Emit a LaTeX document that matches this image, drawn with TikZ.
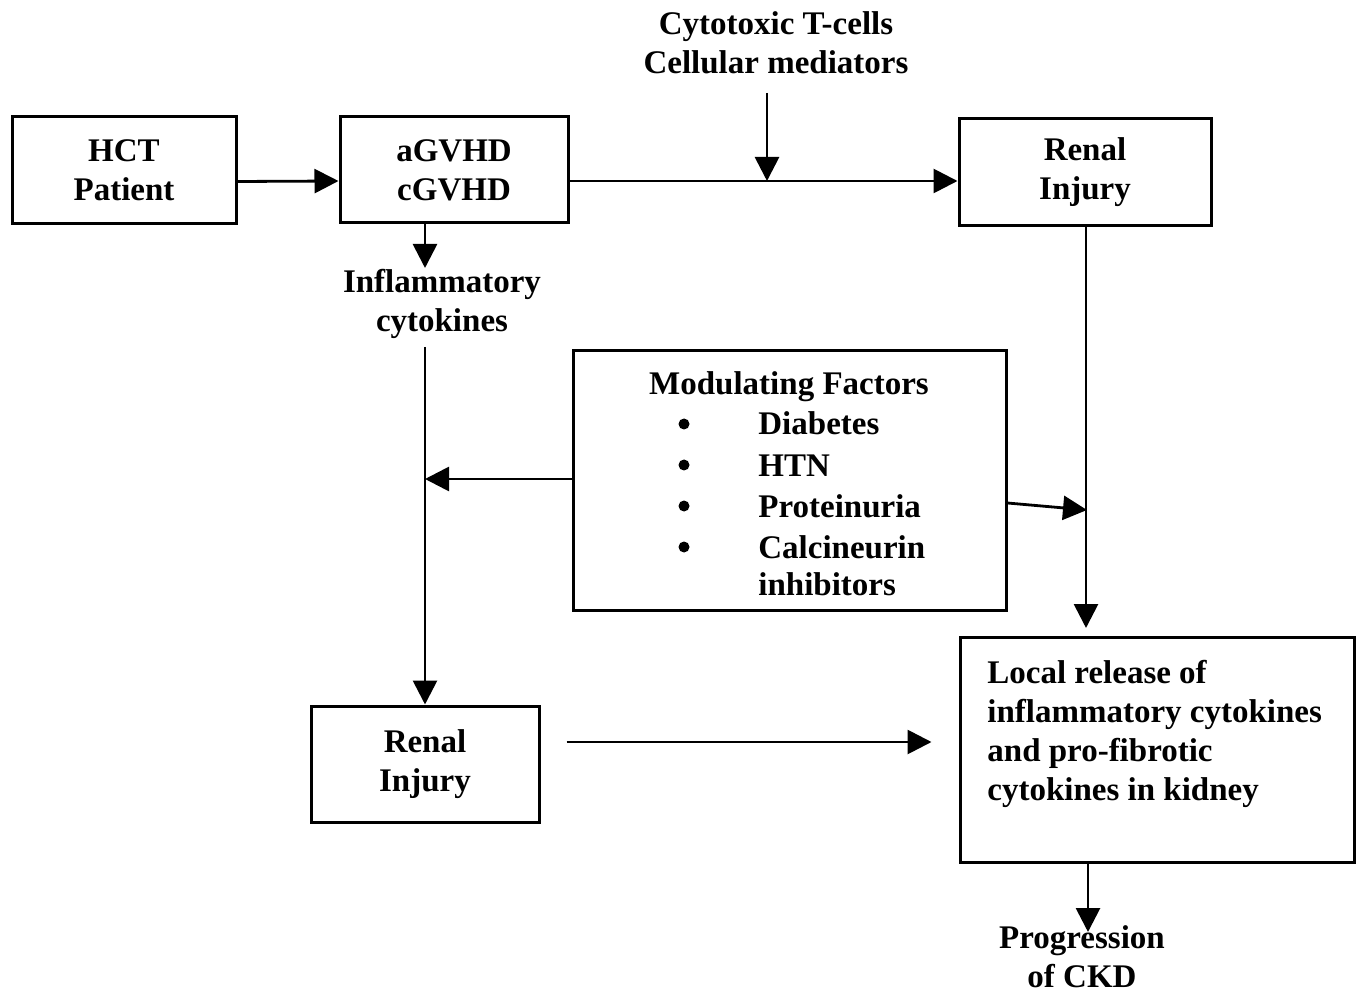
\documentclass[tikz,border=0pt]{standalone}
\usepackage{fontspec}
\setmainfont{Liberation Serif}
\usetikzlibrary{positioning,arrows.meta}

\begin{document}
\begin{tikzpicture}[x=0.5pt,y=-0.5pt,
  font=\fontsize{16.5}{19.5}\selectfont\bfseries,
  box/.style={draw,line width=1.5pt,inner sep=0pt,align=center},
  lbl/.style={align=center,inner sep=0pt},
  dot/.style={circle,fill,inner sep=0pt,minimum size=5.5pt},
  arr/.style={line width=1.4pt,-{Triangle[length=12pt,width=12pt]}}]
\useasboundingbox (0,0) rectangle (1360,994);
% boxes
\node[box,minimum width=112pt,minimum height=53.5pt] (hct) at (124,170.5) {HCT\\Patient};
\node[box,minimum width=114pt,minimum height=53pt] (gvhd) at (454,170) {aGVHD\\cGVHD};
\node[box,minimum width=126pt,minimum height=53.5pt] (renaltop) at (1085,172) {Renal\\Injury};
\node[box,minimum width=216.5pt,minimum height=129.5pt] (mod) at (789.5,480.5) {};
\node[box,minimum width=114pt,minimum height=58pt] (renalbot) at (425,764) {Renal\\Injury};
\node[box,minimum width=197pt,minimum height=112.5pt] (local) at (1157,749.5) {};
% free labels
\node[lbl] (cyto) at (776,43) {Cytotoxic T-cells\\Cellular mediators};
\node[lbl] (infl) at (442,304) {Inflammatory\\cytokines};
\node[lbl] (prog) at (1082,957) {Progression\\of CKD};
\node[lbl,anchor=north west,align=left] (localtxt) at (987,660)
  {Local release of\\inflammatory cytokines\\and pro-fibrotic\\cytokines in kidney};
% modulating factors
\node[lbl,anchor=base] (modtitle) at (789,395) {Modulating Factors};
\foreach \y/\t [count=\i] in {435/Diabetes,476/HTN,517/Proteinuria,558/Calcineurin} {
  \node[dot] (bul\i) at (684,\y-11) {};
  \node[lbl,anchor=base west] (item\i) at (758,\y) {\t};
}
\node[lbl,anchor=base west] (item5) at (758,595) {inhibitors};
% connector ends
\coordinate (cytotail) at (767,93);
\coordinate (hit) at (767,181);
\coordinate (a1) at (425,268);
\coordinate (a2) at (425,347);
\coordinate (m1) at (425,479);
\coordinate (m2) at (1087,510);
\coordinate (r1) at (1086,628);
\coordinate (p1) at (1088,932);
% arrows
\draw[arr] ([yshift=-5.5pt]hct.east) -- ([yshift=-5.5pt]gvhd.west);
\draw[arr] ([yshift=-5.5pt]gvhd.east) -- (renaltop.west |- hit);
\draw[arr] (cytotail) -- (hit);
\draw[arr] (gvhd.south -| a1) -- (a1);
\draw[arr] (a2) -- (renalbot.north);
\draw[arr] (mod.west |- m1) -- (m1);
\draw[arr] ([yshift=-11.25pt]mod.east) -- (m2);
\draw[arr] (renaltop.south -| r1) -- (r1);
\draw[arr] ([xshift=13pt,yshift=11pt]renalbot.east) -- ([xshift=-13.5pt,yshift=3.75pt]local.west);
\draw[arr] (local.south -| p1) -- (p1);
\end{tikzpicture}
\end{document}
